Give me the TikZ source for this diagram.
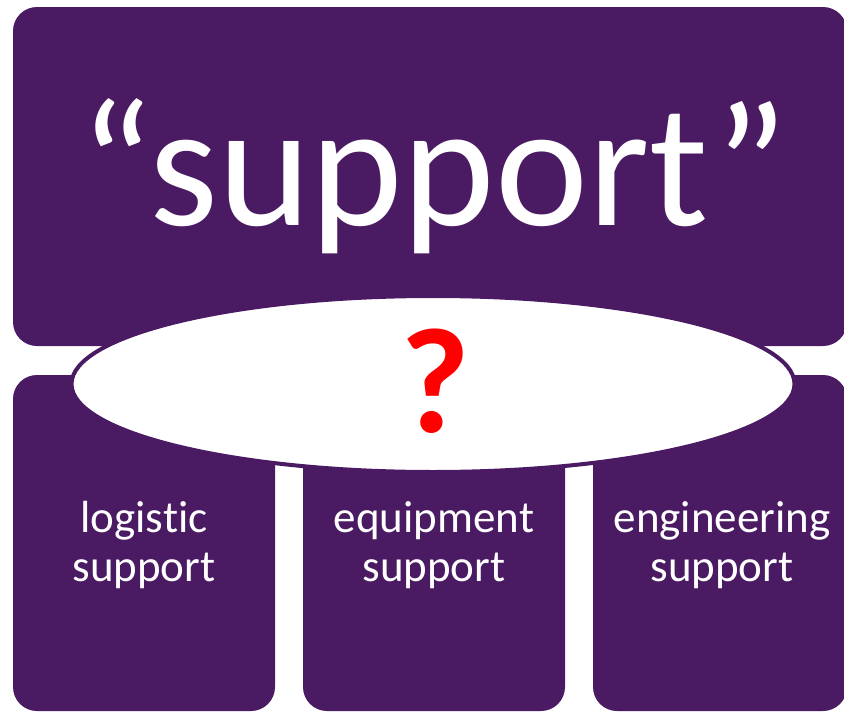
\documentclass[tikz,border=0pt]{standalone}
\usepackage{fontspec}
\usetikzlibrary{shapes.geometric}
\setmainfont{Carlito}[Ligatures=NoCommon]
\definecolor{plum}{RGB}{74,26,98}
\definecolor{qred}{RGB}{255,0,0}
\tikzset{
  pbox/.style={fill=plum, draw=none, rounded corners=24pt},
  lbl/.style={text=white, font=\fontsize{45}{49}\selectfont, align=center, inner sep=0pt, anchor=base},
}
\begin{document}
\begin{tikzpicture}[x=1pt,y=-1pt]
\useasboundingbox (0,0) rectangle (844,712);
\fill[white] (0,0) rectangle (844,712);
\path[pbox] (13,7) rectangle (847,346);
\path[pbox] (13,375) rectangle (275,711);
\path[pbox] (303,375) rectangle (565,711);
\path[pbox] (593,375) rectangle (847,711);
\node[ellipse, draw=plum, line width=4pt, fill=white, minimum width=723pt, minimum height=176pt, inner sep=0pt] (ell) at (433,384) {};
\node[text=white, font=\fontsize{176}{190}\selectfont, inner sep=0pt, anchor=base] (title) at (434,225) {“support”};
\node[text=qred, font=\bfseries\fontsize{150}{160}\selectfont, inner sep=0pt, anchor=base] (q) at (435,432) {?};
\node[lbl] (log) at (144,581) {logistic\\support};
\node[lbl] (equ) at (434,581) {equipment\\support};
\node[lbl] (eng) at (722,581) {engineering\\support};
\end{tikzpicture}
\end{document}
